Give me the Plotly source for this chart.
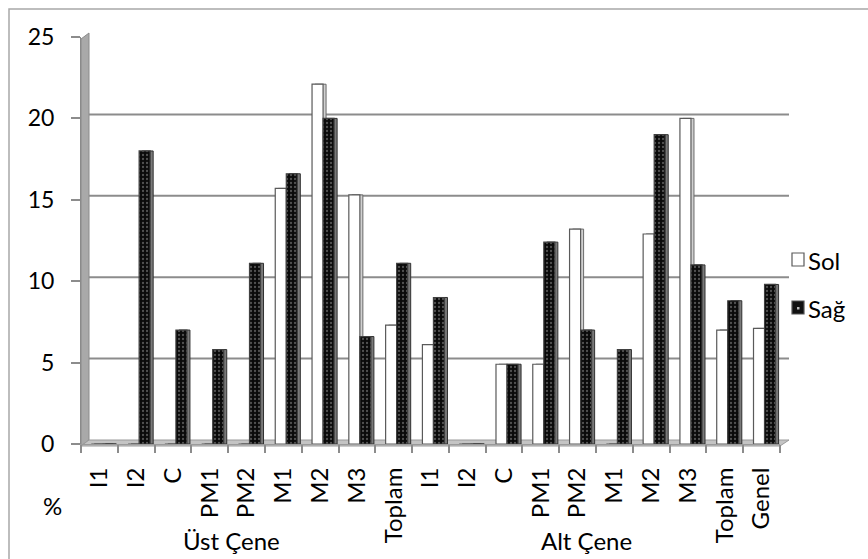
import plotly.graph_objects as go

# Tooth positions (two jaws) and the left / right percentages
teeth = ["I1", "I2", "C", "PM1", "PM2", "M1", "M2", "M3", "Toplam",
         "I1", "I2", "C", "PM1", "PM2", "M1", "M2", "M3", "Toplam", "Genel"]
sol = [0, 0, 0, 0, 0, 15.7, 22.1, 15.3, 7.3,
       6.1, 0, 4.9, 4.9, 13.2, 0, 12.9, 20.0, 7.0, 7.1]
sag = [0, 18.0, 7.0, 5.8, 11.1, 16.6, 20.0, 6.6, 11.1,
       9.0, 0, 4.9, 12.4, 7.0, 5.8, 19.0, 11.0, 8.8, 9.8]
y_ticks = [0, 5, 10, 15, 20, 25]
groups = [("Üst Çene", 231), ("Alt Çene", 586)]

W, H = 868, 559
L, R, T, B = 81, 780, 37, 444
PW, PH = R - L, B - T
FONT = "Lato"


def xp(px):
    return (px - L) / PW


def yp(py):
    return (B - py) / PH


x = list(range(len(teeth)))
side_shift = 3 / (PW / len(teeth))

fig = go.Figure()
# Side faces drawn first, then the front faces
fig.add_bar(x=x, y=sol, offset=-0.22 + side_shift, width=0.30,
            marker=dict(color="#d0d0d0", line=dict(color="#6a6a6a", width=1)),
            showlegend=False, hoverinfo="skip")
fig.add_bar(x=x, y=sol, offset=-0.22, width=0.30, name="Sol",
            marker=dict(color="white", line=dict(color="#5a5a5a", width=1.2)),
            showlegend=False)
fig.add_bar(x=x, y=sag, offset=0.08 + side_shift, width=0.30,
            marker=dict(color="#7a7a7a", line=dict(color="#303030", width=1)),
            showlegend=False, hoverinfo="skip")
fig.add_bar(x=x, y=sag, offset=0.08, width=0.30, name="Sağ",
            marker=dict(color="#0a0a0a", line=dict(color="#404040", width=1.2),
                        pattern=dict(shape=".", fgcolor="#9a9a9a", size=4,
                                     solidity=0.25, fillmode="overlay")),
            showlegend=False)

shapes = []
# outer chart border
shapes.append(dict(type="rect", xref="paper", yref="paper",
                   x0=xp(9), x1=xp(W + 5), y0=yp(9), y1=yp(H + 5),
                   line=dict(color="#a8a8a8", width=1.5), layer="below"))
# side wall
shapes.append(dict(type="path", xref="paper", yref="paper",
                   path=f"M {xp(81)} {yp(446)} L {xp(81)} {yp(39)} L {xp(89)} {yp(33)} "
                        f"L {xp(89)} {yp(440)} Z",
                   fillcolor="#a9a9a9", line=dict(color="#8a8a8a", width=1), layer="below"))
# floor
shapes.append(dict(type="path", xref="paper", yref="paper",
                   path=f"M {xp(81)} {yp(446)} L {xp(780)} {yp(446)} L {xp(789)} {yp(440)} "
                        f"L {xp(89)} {yp(440)} Z",
                   fillcolor="#c4c4c4", line=dict(color="#9a9a9a", width=1), layer="below"))
# back-wall gridlines
for v in y_ticks[1:]:
    shapes.append(dict(type="line", xref="paper", yref="y", ysizemode="pixel",
                       yanchor=v, y0=4, y1=4, x0=xp(89), x1=xp(789),
                       line=dict(color="#8c8c8c", width=2), layer="below"))

# legend keys
shapes.append(dict(type="rect", xref="paper", yref="paper",
                   x0=xp(792), x1=xp(804), y0=yp(266), y1=yp(253),
                   fillcolor="white", line=dict(color="#5a5a5a", width=1.2)))
shapes.append(dict(type="rect", xref="paper", yref="paper",
                   x0=xp(792), x1=xp(804), y0=yp(314), y1=yp(301),
                   fillcolor="#111111", line=dict(color="#555555", width=1.2)))
shapes.append(dict(type="rect", xref="paper", yref="paper",
                   x0=xp(797), x1=xp(799.5), y0=yp(309.5), y1=yp(307),
                   fillcolor="#bbbbbb", line=dict(width=0)))

annotations = []
for name, cx in groups:
    annotations.append(dict(text=name, xref="paper", yref="paper",
                            x=xp(cx), y=yp(540), showarrow=False,
                            xanchor="center", yanchor="middle",
                            font=dict(family=FONT, size=24, color="black")))
annotations.append(dict(text="%", xref="paper", yref="paper", x=xp(52), y=yp(505),
                        showarrow=False, xanchor="center", yanchor="middle",
                        font=dict(family=FONT, size=24, color="black")))
annotations.append(dict(text="Sol", xref="paper", yref="paper", x=xp(806), y=yp(260),
                        showarrow=False, xanchor="left", yanchor="middle",
                        font=dict(family=FONT, size=24, color="black")))
annotations.append(dict(text="Sağ", xref="paper", yref="paper", x=xp(806), y=yp(308),
                        showarrow=False, xanchor="left", yanchor="middle",
                        font=dict(family=FONT, size=24, color="black")))

fig.update_layout(
    width=W, height=H,
    margin=dict(l=L, r=W - R, t=T, b=H - B),
    paper_bgcolor="white", plot_bgcolor="rgba(0,0,0,0)",
    barmode="overlay",
    shapes=shapes, annotations=annotations,
    showlegend=False,
    font=dict(family=FONT, color="black"),
)
fig.update_xaxes(
    range=[-0.5, len(teeth) - 0.5],
    tickmode="array", tickvals=x, ticktext=teeth, tickangle=-90,
    ticks="outside", ticklen=13, tickcolor="rgba(0,0,0,0)",
    tickfont=dict(family=FONT, size=24, color="black"),
    minor=dict(tickmode="array", tickvals=[i - 0.5 for i in range(len(teeth) + 1)],
               ticks="outside", ticklen=8, tickcolor="#8c8c8c", tickwidth=1.5),
    showline=True, linecolor="#9a9a9a", linewidth=1,
    showgrid=False, zeroline=False, fixedrange=True,
)
fig.update_yaxes(
    range=[0, 25], tickmode="array", tickvals=y_ticks,
    ticks="outside", ticklen=9, tickcolor="#8c8c8c", tickwidth=1.5,
    ticklabelstandoff=12,
    tickfont=dict(family=FONT, size=23, color="black"),
    showline=True, linecolor="#8a8a8a", linewidth=1,
    showgrid=False, zeroline=False, fixedrange=True,
)

fig.write_html("out.html")
